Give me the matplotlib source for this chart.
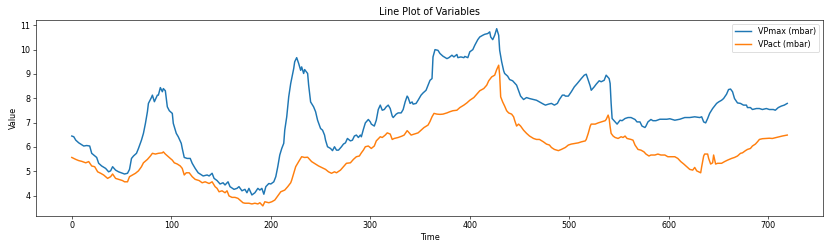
import matplotlib
matplotlib.use("Agg")
import matplotlib.pyplot as plt

# VPmax (mbar): (time, value)
vpmax_t = [0, 2, 4, 7, 9, 12, 15, 18, 20, 22, 25, 27, 30, 34, 37, 39, 41, 44, 47, 51, 53, 56, 58, 60, 62, 65, 67, 70, 72, 74, 76, 77, 80, 81, 83, 86, 87, 89, 91, 92, 94, 96, 98, 101, 102, 105, 107, 110, 111, 113, 116, 119, 121, 124, 127, 129, 132, 136, 138, 141, 143, 146, 149, 152, 154, 157, 159, 163, 166, 168, 171, 174, 176, 178, 181, 184, 187, 189, 191, 193, 195, 198, 200, 203, 205, 207, 209, 211, 213, 214, 216, 218, 220, 223, 224, 226, 228, 230, 231, 233, 234, 237, 238, 240, 243, 245, 247, 250, 252, 254, 255, 257, 260, 262, 264, 266, 268, 271, 273, 275, 277, 280, 282, 284, 286, 288, 290, 291, 293, 295, 298, 300, 301, 304, 306, 308, 310, 312, 314, 316, 318, 320, 322, 323, 326, 328, 331, 333, 335, 337, 338, 340, 342, 343, 346, 348, 351, 353, 356, 358, 360, 362, 363, 365, 368, 370, 373, 377, 379, 382, 384, 387, 388, 391, 394, 395, 398, 400, 403, 405, 408, 410, 413, 415, 418, 420, 421, 423, 425, 427, 429, 430, 432, 434, 435, 438, 440, 443, 445, 447, 449, 451, 454, 457, 460, 464, 467, 470, 474, 476, 479, 482, 485, 488, 490, 493, 495, 496, 499, 502, 505, 508, 512, 515, 517, 519, 521, 522, 525, 527, 530, 532, 535, 537, 540, 541, 542, 543, 546, 548, 551, 553, 556, 559, 562, 566, 568, 571, 573, 576, 577, 579, 582, 584, 587, 591, 594, 598, 601, 606, 611, 616, 621, 626, 631, 633, 635, 637, 639, 641, 644, 648, 650, 653, 655, 658, 660, 662, 664, 666, 669, 672, 675, 678, 679, 682, 684, 688, 691, 694, 698, 701, 705, 707, 710, 713, 716, 719]
vpmax_v = [6.45, 6.42, 6.28, 6.17, 6.12, 6.04, 6.06, 6.04, 5.74, 5.67, 5.57, 5.33, 5.22, 5.12, 4.98, 5.02, 5.19, 5.05, 4.98, 4.92, 4.89, 4.92, 5.08, 5.53, 5.63, 5.74, 5.94, 6.28, 6.56, 6.97, 7.45, 7.79, 8.03, 8.13, 7.86, 8.13, 8.13, 8.44, 8.27, 8.40, 8.31, 7.65, 7.49, 7.38, 6.97, 6.56, 6.42, 6.15, 5.94, 5.57, 5.53, 5.53, 5.33, 5.12, 4.94, 4.89, 4.81, 4.85, 4.81, 4.92, 4.71, 4.62, 4.48, 4.53, 4.44, 4.57, 4.37, 4.26, 4.30, 4.37, 4.20, 4.26, 4.12, 4.30, 4.03, 4.12, 4.30, 4.23, 4.30, 4.06, 4.37, 4.50, 4.48, 4.57, 4.78, 5.19, 5.67, 5.94, 6.15, 6.69, 7.24, 8.06, 8.61, 9.22, 9.50, 9.67, 9.43, 9.15, 9.29, 9.02, 9.18, 9.02, 8.55, 7.85, 7.65, 7.45, 7.10, 6.76, 6.69, 6.49, 6.28, 6.01, 5.94, 5.85, 6.01, 5.87, 5.87, 6.01, 6.12, 6.17, 6.35, 6.25, 6.28, 6.45, 6.49, 6.39, 6.49, 6.42, 6.72, 6.99, 7.13, 7.03, 6.94, 6.86, 7.10, 7.54, 7.72, 7.51, 7.54, 7.65, 7.72, 7.58, 7.27, 7.21, 7.35, 7.40, 7.40, 7.54, 7.85, 8.09, 8.03, 7.79, 7.85, 7.76, 7.79, 7.92, 8.13, 8.22, 8.33, 8.54, 8.74, 8.81, 9.70, 10.0, 9.97, 9.84, 9.73, 9.63, 9.67, 9.77, 9.70, 9.80, 9.67, 9.70, 9.67, 9.72, 9.67, 9.91, 10.0, 10.18, 10.41, 10.52, 10.59, 10.63, 10.66, 10.73, 10.52, 10.41, 10.59, 10.86, 10.59, 9.97, 9.50, 9.13, 9.02, 8.91, 8.77, 8.72, 8.63, 8.54, 8.31, 8.09, 7.95, 8.03, 7.99, 7.95, 7.92, 7.85, 7.76, 7.72, 7.76, 7.79, 7.72, 7.79, 7.95, 8.13, 8.13, 8.09, 8.09, 8.27, 8.47, 8.61, 8.81, 8.95, 8.99, 8.74, 8.50, 8.33, 8.47, 8.58, 8.72, 8.68, 8.74, 8.95, 8.81, 8.61, 7.80, 7.17, 7.03, 6.94, 7.10, 7.08, 7.17, 7.21, 7.21, 7.13, 7.03, 7.03, 6.86, 6.80, 6.86, 7.03, 7.13, 7.08, 7.08, 7.14, 7.14, 7.14, 7.16, 7.10, 7.14, 7.21, 7.21, 7.24, 7.21, 7.24, 7.03, 6.99, 7.17, 7.38, 7.58, 7.79, 7.85, 7.92, 7.99, 8.17, 8.36, 8.38, 8.27, 7.99, 7.81, 7.79, 7.72, 7.72, 7.62, 7.62, 7.54, 7.58, 7.58, 7.54, 7.58, 7.54, 7.54, 7.51, 7.62, 7.68, 7.72, 7.79]

# VPact (mbar)
vpact_t = [0, 4, 7, 10, 14, 17, 20, 23, 26, 29, 32, 36, 39, 41, 44, 47, 51, 53, 56, 58, 61, 64, 67, 70, 72, 76, 79, 81, 84, 87, 91, 92, 94, 97, 99, 101, 103, 106, 109, 111, 113, 115, 118, 121, 124, 128, 131, 134, 138, 141, 144, 146, 148, 151, 154, 156, 158, 161, 164, 167, 169, 172, 174, 178, 181, 184, 187, 189, 192, 194, 198, 201, 204, 207, 210, 214, 217, 220, 221, 223, 225, 228, 231, 234, 237, 241, 245, 248, 251, 255, 258, 261, 264, 266, 270, 273, 276, 280, 283, 286, 289, 291, 293, 295, 298, 301, 304, 306, 310, 312, 315, 317, 320, 322, 324, 328, 332, 334, 337, 338, 341, 344, 348, 351, 354, 358, 360, 362, 364, 367, 370, 373, 377, 380, 383, 387, 390, 394, 397, 400, 404, 407, 410, 414, 417, 419, 422, 425, 427, 429, 430, 431, 433, 435, 437, 439, 442, 444, 445, 447, 449, 451, 454, 457, 460, 464, 467, 470, 474, 477, 480, 482, 485, 489, 492, 496, 499, 502, 506, 509, 512, 516, 517, 519, 521, 522, 526, 529, 532, 536, 537, 539, 540, 541, 542, 544, 546, 549, 552, 554, 556, 558, 562, 564, 566, 569, 572, 575, 577, 580, 582, 586, 589, 592, 596, 599, 601, 606, 609, 612, 615, 618, 621, 624, 626, 628, 630, 632, 633, 635, 636, 639, 640, 642, 644, 645, 647, 649, 653, 656, 659, 663, 666, 669, 672, 674, 677, 679, 682, 684, 687, 689, 691, 694, 698, 701, 704, 708, 711, 714, 719]
vpact_v = [5.57, 5.49, 5.44, 5.41, 5.35, 5.40, 5.22, 5.19, 4.98, 4.92, 4.85, 4.71, 4.78, 4.89, 4.71, 4.67, 4.62, 4.57, 4.57, 4.78, 4.85, 4.92, 5.02, 5.19, 5.35, 5.49, 5.63, 5.74, 5.71, 5.74, 5.76, 5.80, 5.71, 5.60, 5.53, 5.46, 5.35, 5.30, 5.22, 5.12, 4.85, 4.94, 4.94, 4.78, 4.67, 4.62, 4.53, 4.57, 4.50, 4.57, 4.37, 4.30, 4.16, 4.20, 4.12, 4.20, 3.99, 3.93, 3.93, 3.89, 3.82, 3.71, 3.69, 3.69, 3.66, 3.69, 3.66, 3.71, 3.58, 3.75, 3.71, 3.75, 3.82, 3.99, 4.16, 4.23, 4.37, 4.53, 4.64, 4.92, 5.19, 5.40, 5.60, 5.57, 5.58, 5.40, 5.30, 5.22, 5.16, 5.08, 4.98, 4.92, 4.98, 4.94, 5.05, 5.19, 5.33, 5.35, 5.49, 5.60, 5.63, 5.76, 5.87, 6.01, 6.04, 5.94, 6.04, 6.25, 6.42, 6.39, 6.49, 6.58, 6.53, 6.31, 6.35, 6.39, 6.45, 6.49, 6.67, 6.63, 6.49, 6.53, 6.58, 6.69, 6.80, 6.90, 7.05, 7.24, 7.38, 7.35, 7.34, 7.35, 7.40, 7.45, 7.49, 7.51, 7.62, 7.72, 7.81, 7.92, 8.03, 8.17, 8.31, 8.40, 8.54, 8.72, 8.88, 8.95, 9.18, 9.36, 8.95, 8.06, 7.85, 7.68, 7.49, 7.40, 7.35, 7.24, 7.10, 6.86, 6.94, 6.86, 6.69, 6.56, 6.45, 6.35, 6.31, 6.31, 6.21, 6.12, 6.08, 5.98, 5.90, 5.85, 5.90, 5.98, 6.08, 6.12, 6.15, 6.17, 6.21, 6.25, 6.31, 6.56, 6.86, 6.94, 6.94, 6.99, 7.03, 7.08, 7.13, 7.31, 7.17, 6.83, 6.56, 6.45, 6.39, 6.35, 6.42, 6.39, 6.45, 6.35, 6.31, 6.28, 6.08, 5.90, 5.87, 5.80, 5.71, 5.63, 5.67, 5.67, 5.71, 5.67, 5.67, 5.60, 5.60, 5.60, 5.53, 5.40, 5.30, 5.19, 5.08, 5.05, 5.16, 5.02, 4.98, 4.94, 5.19, 5.63, 5.71, 5.71, 5.53, 5.30, 5.35, 5.67, 5.30, 5.33, 5.33, 5.40, 5.46, 5.53, 5.57, 5.63, 5.74, 5.76, 5.85, 5.90, 5.94, 6.04, 6.12, 6.21, 6.31, 6.34, 6.35, 6.36, 6.35, 6.39, 6.42, 6.45, 6.49]

series_labels = ["VPmax (mbar)", "VPact (mbar)"]

plt.rcParams["font.size"] = 10.5
fig = plt.figure(figsize=(15, 4.5), dpi=830 / 15)
ax = fig.add_axes([0.0434, 0.134, 0.9482, 0.786])
ax.plot(vpmax_t, vpmax_v, color="#1f77b4", linewidth=1.9, label=series_labels[0])
ax.plot(vpact_t, vpact_v, color="#ff7f0e", linewidth=1.9, label=series_labels[1])
ax.set_title("Line Plot of Variables")
ax.set_xlabel("Time")
ax.set_ylabel("Value")
ax.set_xlim(-35.95, 754.95)
ax.set_ylim(3.18, 11.22)
ax.legend(loc="upper right")
fig.savefig("out.png", dpi=830 / 15)
